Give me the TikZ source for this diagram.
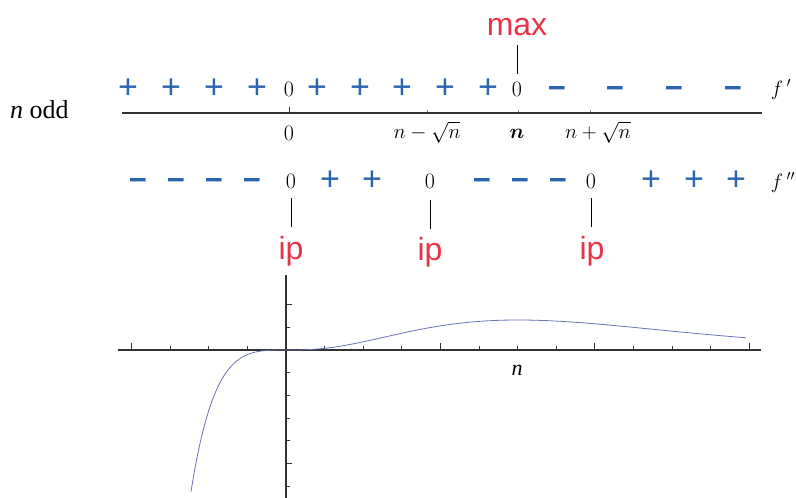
\documentclass[tikz,border=0pt]{standalone}
\usepackage{amsmath,bm}
\usepackage{fontspec}
\newfontfamily\sansf{Liberation Sans}
\newfontfamily\seriff{Liberation Serif}
\definecolor{sgnblue}{RGB}{40,100,175}
\definecolor{mred}{RGB}{232,50,72}
\definecolor{curveblue}{RGB}{105,115,180}
\definecolor{axgray}{RGB}{50,50,50}
\tikzset{
  sgn/.style={inner sep=0pt, text=sgnblue, font=\sansf\fontsize{34}{36}\selectfont},
  sgnm/.style={inner sep=0pt, anchor=base, text=sgnblue, font=\sansf\bfseries\fontsize{31}{33}\selectfont},
  zer/.style={inner sep=0pt, anchor=base, font=\fontsize{22}{24}\selectfont},
  fl/.style={inner sep=0pt, anchor=base, font=\fontsize{21}{23}\selectfont},
  redlab/.style={inner sep=0pt, anchor=base, text=mred, font=\sansf\fontsize{32}{34}\selectfont},
  ticklab/.style={inner sep=0pt, anchor=base, font=\fontsize{20}{22}\selectfont},
  axisline/.style={draw=axgray, line width=1.3pt},
  conn/.style={draw=black, line width=1pt},
  minortick/.style={draw=axgray, line width=0.9pt},
}
\begin{document}
\begin{tikzpicture}[x=1pt,y=-1pt]
\useasboundingbox (0,0) rectangle (796,498);

% label n odd
\node[inner sep=0pt, anchor=base west, font=\seriff\fontsize{26}{28}\selectfont] (nodd) at (10,118) {\textit{n} odd};

% f' row
\foreach \i/\x in {1/128,2/171,3/214,4/257,5/317,6/360,7/402,8/445,9/488}
  \node[sgn] (pp\i) at (\x,89) {+};
\foreach \i/\x in {1/557,2/615,3/674,4/733}
  \node[sgnm] (pm\i) at (\x,98) {−};
\node[zer] (fz0) at (289,96) {0};
\node[zer] (fzmax) at (517,96) {0};
\node[fl] (fp) at (781,95) {$f\,'$};

% max
\node[redlab] (max) at (517,35) {max};
\coordinate (mtop) at (517,45);
\coordinate (mbot) at (517,74);
\draw[conn] (mtop) -- (mbot);

% top axis
\coordinate (axL) at (122,113);
\coordinate (axR) at (762,113);
\draw[axisline] (axL) -- (axR);
\coordinate (t0a) at (289,113);
\coordinate (t0b) at (289,107);
\draw[minortick] (t0a) -- (t0b);
\foreach \x in {427,518,590}
  \draw[draw=gray, line width=0.6pt] (\x,112) -- (\x,110);
\node[zer] (l0) at (289,140) {0};
\node[ticklab] (l1) at (427,138) {$n-\sqrt{n}$};
\node[ticklab] (l2) at (517,138) {$\bm{n}$};
\node[ticklab] (l3) at (598,138) {$n+\sqrt{n}$};

% f'' row
\foreach \i/\x in {1/138,2/176,3/214,4/252,5/482,6/520,7/558}
  \node[sgnm] (sm\i) at (\x,190) {−};
\foreach \i/\x in {1/330,2/372,3/651,4/694,5/736}
  \node[sgn] (sp\i) at (\x,181) {+};
\node[zer] (gz1) at (291,188) {0};
\node[zer] (gz2) at (430,188) {0};
\node[zer] (gz3) at (591,188) {0};
\node[fl] (fpp) at (783,188) {$f\,''$};

% ip labels
\node[redlab] (ip1) at (291,259) {ip};
\node[redlab] (ip2) at (430,260) {ip};
\node[redlab] (ip3) at (592,259) {ip};
\coordinate (c1a) at (291,198); \coordinate (c1b) at (291,227);
\coordinate (c2a) at (430,200); \coordinate (c2b) at (430,229);
\coordinate (c3a) at (591,198); \coordinate (c3b) at (591,227);
\draw[conn] (c1a) -- (c1b);
\draw[conn] (c2a) -- (c2b);
\draw[conn] (c3a) -- (c3b);

% plot axes
\coordinate (pxL) at (118,350);
\coordinate (pxR) at (761,350);
\coordinate (pyT) at (286,275);
\coordinate (pyB) at (286,498);
\draw[axisline] (pxL) -- (pxR);
\draw[axisline] (pyT) -- (pyB);
\foreach \k in {-4,-3,-2,-1,1,2,3,4,5,6,7,8,9,10,11,12}{
  \pgfmathsetmacro{\xx}{286+38.6*\k}
  \pgfmathtruncatemacro{\mj}{mod(\k+8,4)==0 ? 1 : 0}
  \ifnum\mj=1
    \draw[minortick] (\xx,350) -- (\xx,343);
  \else
    \draw[minortick] (\xx,350) -- (\xx,346);
  \fi
}
\foreach \k/\len in {-2/6,-1/4,1/4,2/4,3/4,4/4,5/6,6/4}{
  \pgfmathsetmacro{\yy}{350+22.7*\k}
  \draw[minortick] (286,\yy) -- (286+\len,\yy);
}
\node[inner sep=0pt, anchor=base, font=\seriff\itshape\fontsize{22}{24}\selectfont] (plotn) at (517,375) {n};

% curve f(t) = t^3 e^{-t}
\draw[curveblue, line width=0.8pt] plot[domain=-1.229:5.95, samples=220, smooth]
  ({286+77.3*\x}, {350-30*(\x/3)*(\x/3)*(\x/3)*exp(3-\x)});
\end{tikzpicture}
\end{document}
